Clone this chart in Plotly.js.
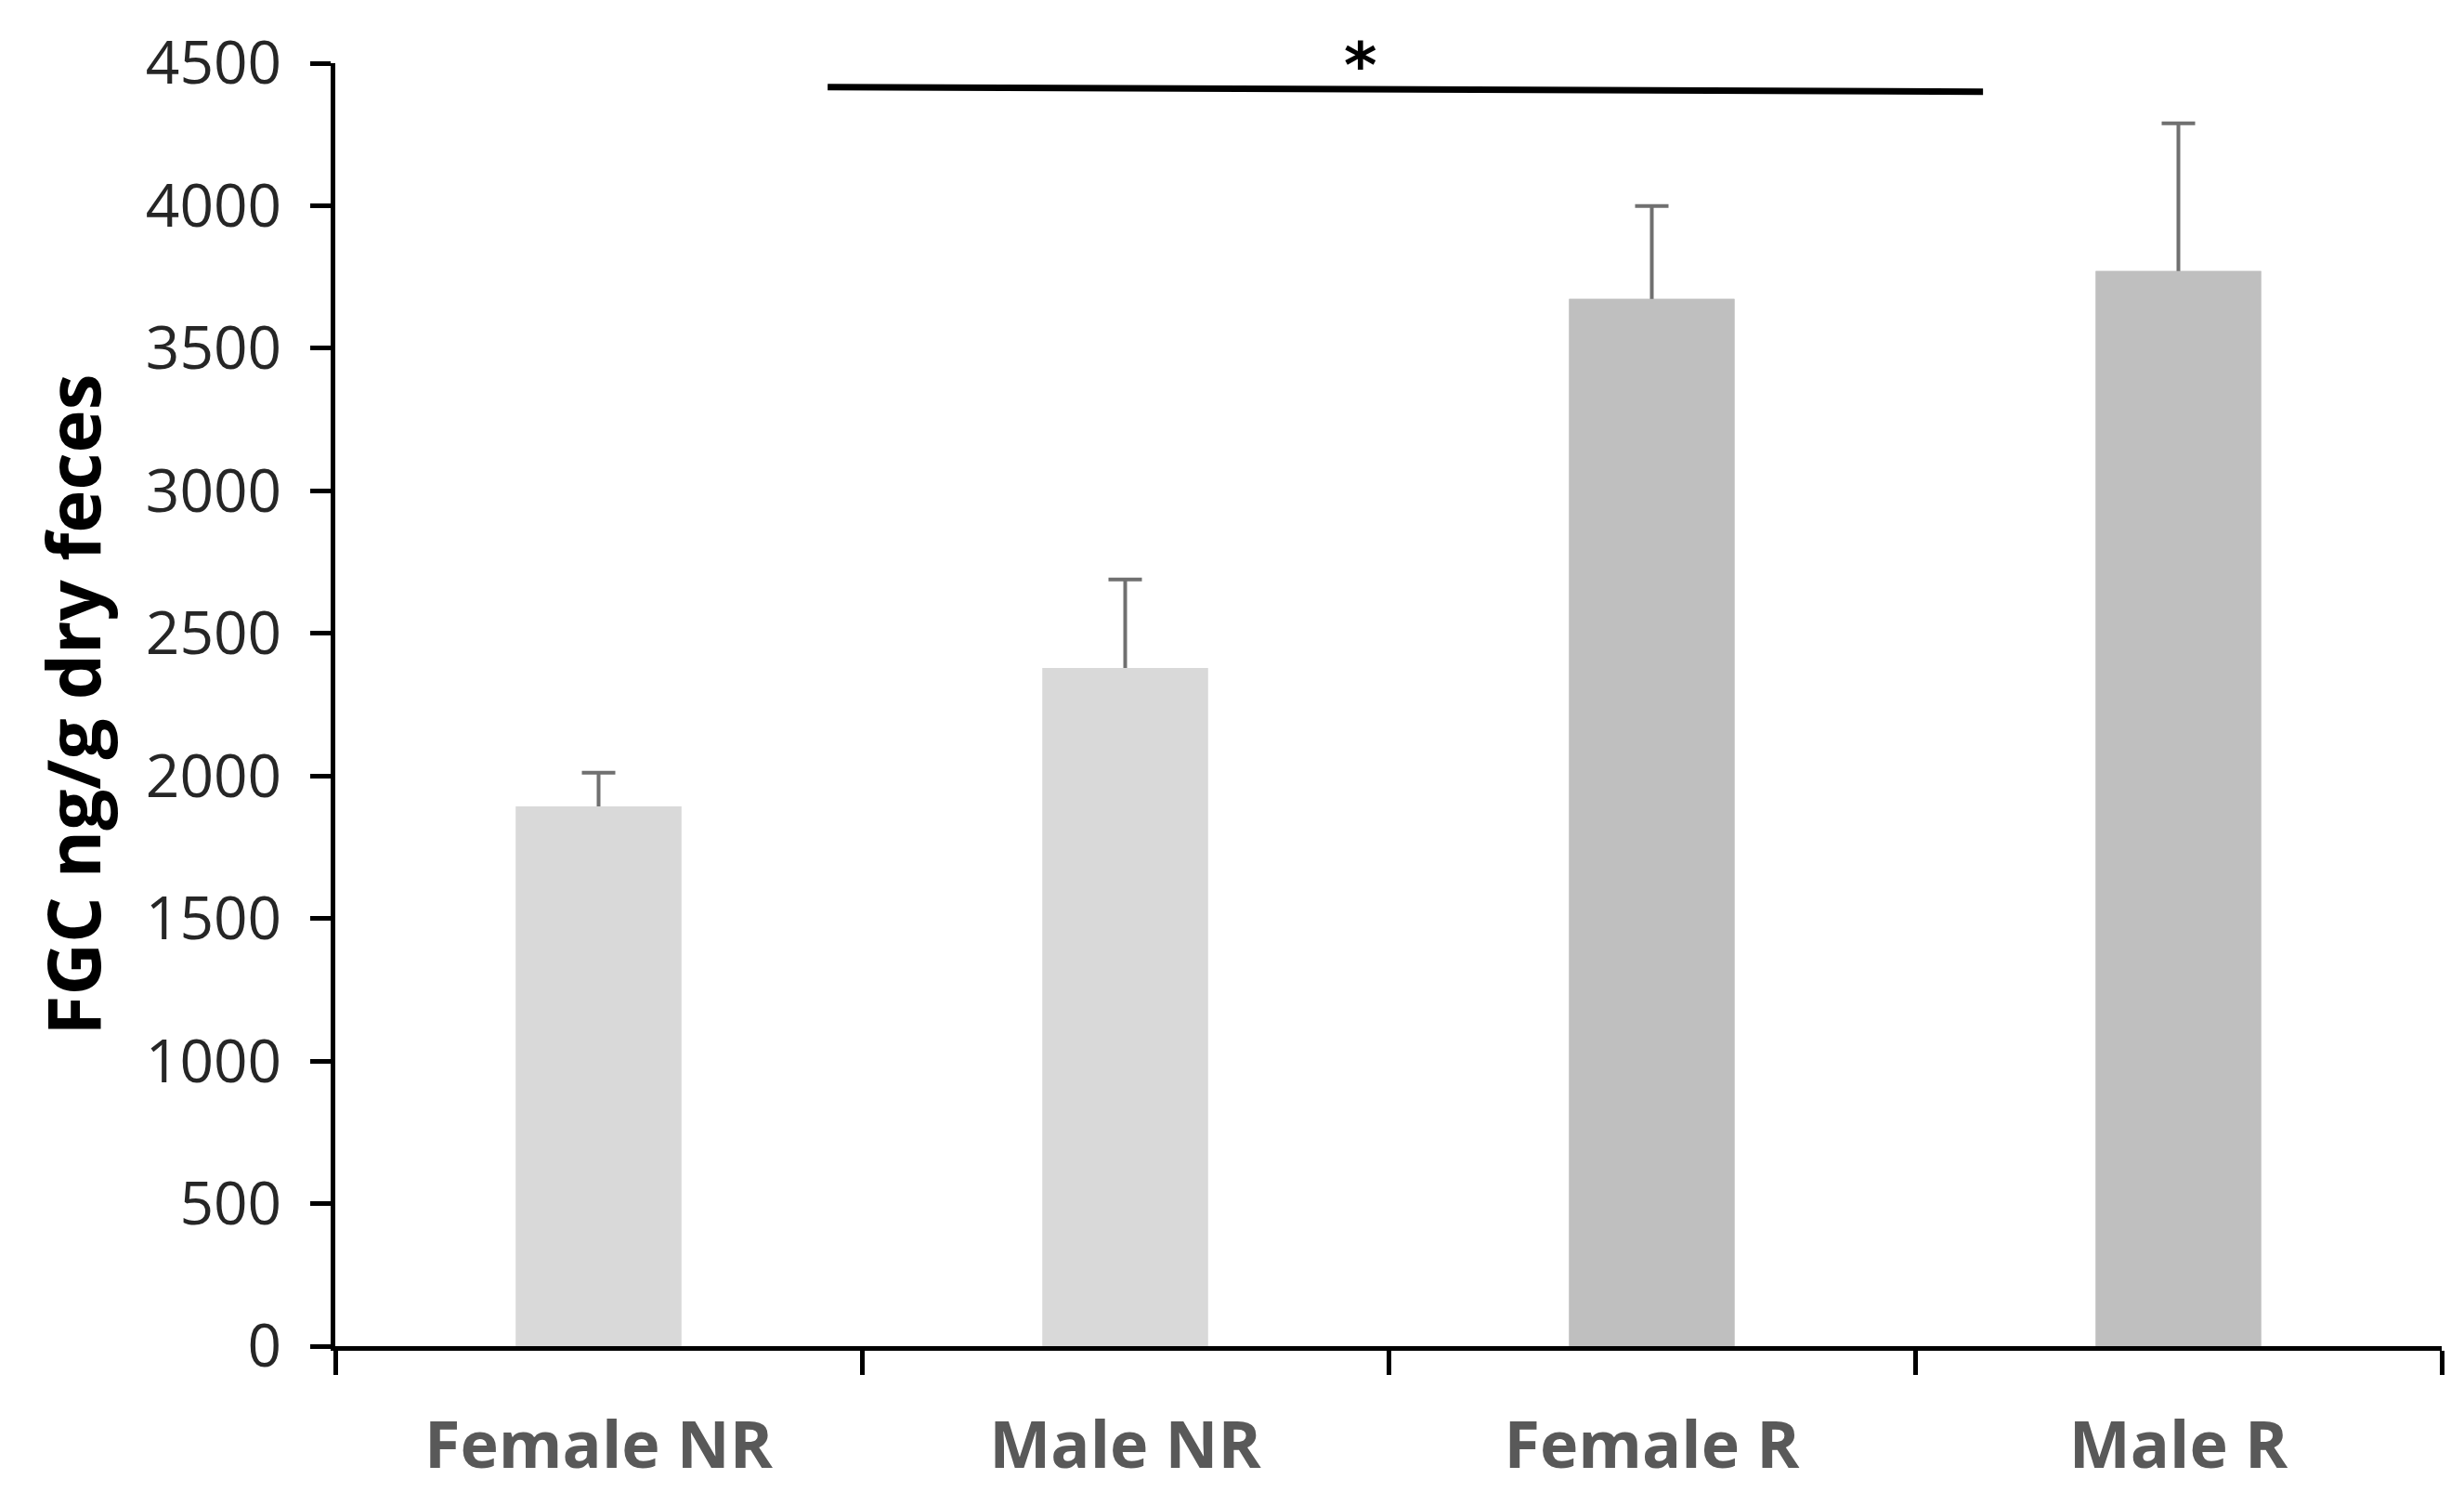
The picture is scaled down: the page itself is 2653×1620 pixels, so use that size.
<!DOCTYPE html>
<html>
<head>
<meta charset="utf-8">
<script src="https://cdn.plot.ly/plotly-3.0.1.min.js"></script>
<style>
html,body{margin:0;padding:0;background:#fff;}
#chart{width:2653px;height:1620px;}
</style>
</head>
<body>
<div id="chart"></div>
<script>
// Data
const categories = ["Female NR", "Male NR", "Female R", "Male R"];
const meanFGC = [1893, 2379, 3673, 3771];
const errorUpper = [118, 310, 326, 518];
const barColors = ["#d9d9d9", "#d9d9d9", "#bfbfbf", "#bfbfbf"];
const yTickValues = [0, 500, 1000, 1500, 2000, 2500, 3000, 3500, 4000, 4500];
// significance bracket: from between Female NR/Male NR to between Female R/Male R
const sigStartX = 0.435, sigEndX = 2.629;
const sigStartY = 4416, sigEndY = 4400;
const sigLabel = "*";
const sigLabelX = 1.447;

// bars carrying the upper error bars (stem starts slightly inside the bar)
const barsWithErrors = {
  type: "bar",
  x: categories,
  y: meanFGC,
  marker: {color: barColors, line: {width: 0}},
  error_y: {
    type: "data",
    symmetric: false,
    array: errorUpper,
    arrayminus: errorUpper.map(() => 25),
    color: "#707070",
    thickness: 4,
    width: 18
  },
  hoverinfo: "none"
};
// same bars drawn again on top so only the upper half of each error bar shows
const barsOnTop = {
  type: "bar",
  x: categories,
  y: meanFGC,
  marker: {color: barColors, line: {width: 0}},
  hoverinfo: "none"
};

const layout = {
  width: 2653,
  height: 1620,
  paper_bgcolor: "#ffffff",
  plot_bgcolor: "#ffffff",
  margin: {l: 361, r: 24, t: 68, b: 171},
  barmode: "overlay",
  bargap: 0.686,
  showlegend: false,
  xaxis: {
    type: "category",
    range: [-0.5, 3.5],
    showline: true,
    linecolor: "#000000",
    linewidth: 5,
    ticks: "outside",
    tickson: "boundaries",
    ticklen: 26,
    tickwidth: 5,
    tickcolor: "#000000",
    showgrid: false,
    zeroline: false,
    tickfont: {family: "Open Sans, Lato, sans-serif", size: 70, color: "#595959", weight: "bold"},
    ticklabelstandoff: 42
  },
  yaxis: {
    range: [0, 4500],
    tickvals: yTickValues,
    ticktext: yTickValues.map(String),
    showline: true,
    linecolor: "#000000",
    linewidth: 5,
    ticks: "outside",
    ticklen: 22,
    tickwidth: 5,
    tickcolor: "#000000",
    showgrid: false,
    zeroline: false,
    tickfont: {family: "Open Sans, Noto Sans, sans-serif", size: 64, color: "#262626"},
    ticklabelstandoff: 18,
    title: {
      text: "<b>FGC ng/g dry feces</b>",
      font: {family: "Open Sans, Lato, sans-serif", size: 78, color: "#000000"},
      standoff: 24
    }
  },
  shapes: [{
    type: "line",
    xref: "x", yref: "y",
    x0: sigStartX, x1: sigEndX,
    y0: sigStartY, y1: sigEndY,
    line: {color: "#000000", width: 7}
  }],
  annotations: [{
    xref: "x", yref: "paper",
    x: sigLabelX, y: 0.998,
    yanchor: "middle",
    text: "<b>" + sigLabel + "</b>",
    showarrow: false,
    font: {family: "DejaVu Sans, sans-serif", size: 68, color: "#000000"}
  }]
};

Plotly.newPlot("chart", [barsWithErrors, barsOnTop], layout, {displayModeBar: false, staticPlot: true});
</script>
</body>
</html>
